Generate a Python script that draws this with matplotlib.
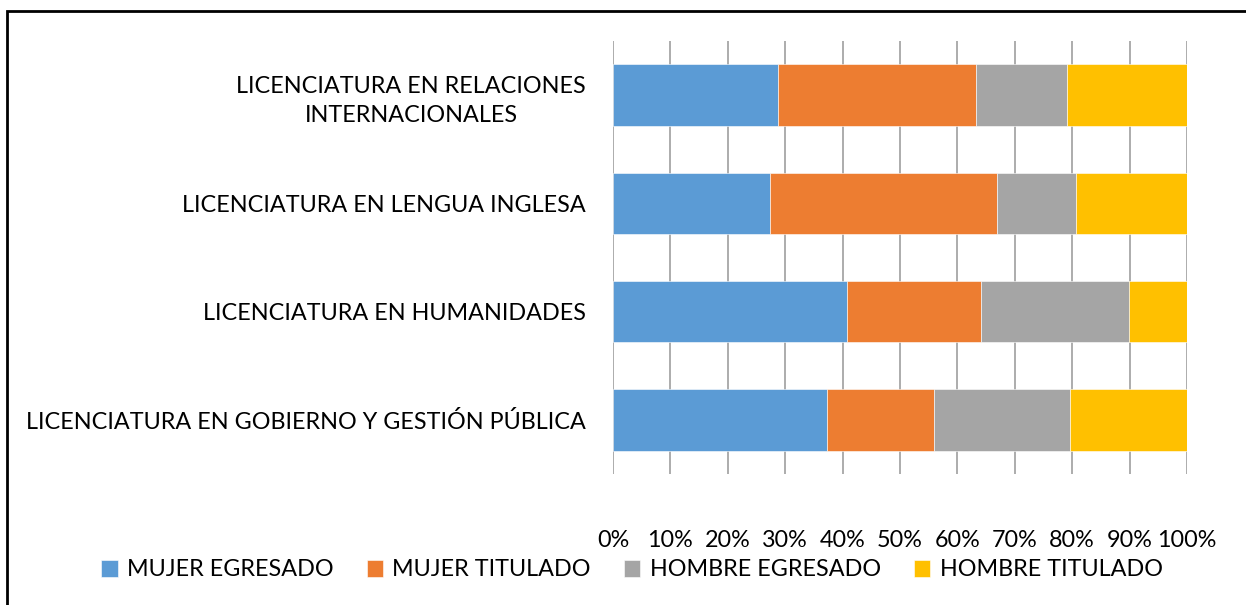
import matplotlib
matplotlib.use("Agg")
import matplotlib.pyplot as plt
from matplotlib.patches import Rectangle
from matplotlib.ticker import FuncFormatter
import numpy as np

categories = [
    "LICENCIATURA EN GOBIERNO Y GESTIÓN PÚBLICA",
    "LICENCIATURA EN HUMANIDADES",
    "LICENCIATURA EN LENGUA INGLESA",
    "LICENCIATURA EN RELACIONES\nINTERNACIONALES",
]
series_names = ["MUJER EGRESADO", "MUJER TITULADO", "HOMBRE EGRESADO", "HOMBRE TITULADO"]
mujer_egresado = [37.3, 40.8, 27.3, 28.7]
mujer_titulado = [18.7, 23.3, 39.6, 34.6]
hombre_egresado = [23.7, 25.8, 13.8, 15.8]
hombre_titulado = [20.3, 10.1, 19.3, 20.9]
colors = ["#5B9BD5", "#ED7D31", "#A5A5A5", "#FFC000"]
xticks = list(range(0, 101, 10))

plt.rcParams['font.family'] = ['Lato', 'DejaVu Sans']
FS = 16.8

W, H = 1246, 605
fig = plt.figure(figsize=(W / 100, H / 100), dpi=100)
ax = fig.add_axes([613 / W, 1 - 474 / H, (1187 - 613) / W, (474 - 41) / H])

data = [mujer_egresado, mujer_titulado, hombre_egresado, hombre_titulado]
y = np.arange(len(categories))
left = np.zeros(len(categories))
for vals, name, c in zip(data, series_names, colors):
    v = np.array(vals)
    ax.barh(y, v, left=left, height=0.57, color=c, label=name,
            edgecolor="white", linewidth=0.4, zorder=3)
    left += v

ax.set_xlim(0, 100)
ax.set_ylim(-0.5, len(categories) - 0.5)
ax.set_xticks(xticks)
ax.xaxis.set_major_formatter(FuncFormatter(lambda v, p: f"{int(v)}%"))
ax.set_yticks(y)
ax.set_yticklabels(categories, multialignment="center", linespacing=1.45)
ax.grid(axis="x", color="#A6A6A6", linewidth=1.3, zorder=0)
for s in ax.spines.values():
    s.set_visible(False)
ax.tick_params(axis="both", length=0, labelsize=FS, colors="black")
ax.tick_params(axis="y", pad=19.5)
ax.tick_params(axis="x", pad=40)

leg = fig.legend(loc="center", bbox_to_anchor=(632 / W, 1 - 570 / H), ncol=4,
                 frameon=False, fontsize=FS, handlelength=0.7, handleheight=0.7,
                 handletextpad=0.4, columnspacing=1.42)

fig.patches.append(Rectangle((6.5 / W, -0.1), 1.2, 1 - 10.5 / H + 0.1,
                             transform=fig.transFigure, fill=False,
                             edgecolor="black", linewidth=2))

fig.savefig("out.png", dpi=100)
